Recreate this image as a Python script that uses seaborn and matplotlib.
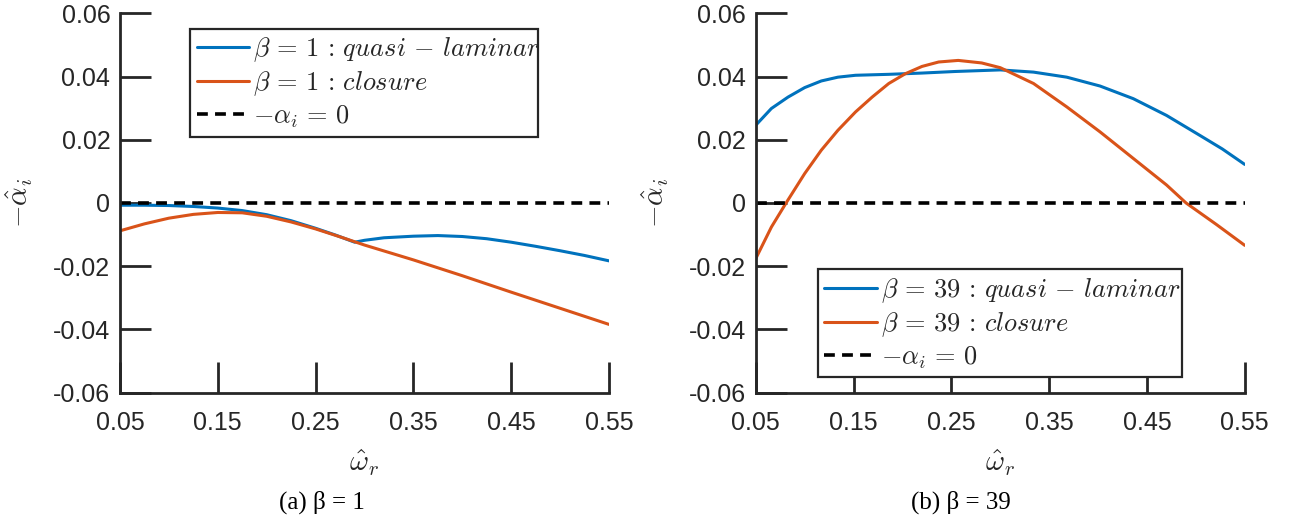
import matplotlib
matplotlib.use("Agg")
import matplotlib.pyplot as plt
import seaborn as sns

# --- data ---
x_ticks = [0.05, 0.15, 0.25, 0.35, 0.45, 0.55]
x_tick_labels = ["0.05", "0.15", "0.25", "0.35", "0.45", "0.55"]
y_ticks = [-0.06, -0.04, -0.02, 0, 0.02, 0.04, 0.06]
y_tick_labels = ["-0.06", "-0.04", "-0.02", "0", "0.02", "0.04", "0.06"]

# beta = 1
b1_ql_w = [0.05, 0.075, 0.10, 0.125, 0.15, 0.175, 0.20, 0.225, 0.25, 0.27, 0.29,
           0.30, 0.32, 0.35, 0.375, 0.40, 0.425, 0.45, 0.475, 0.50, 0.525, 0.55]
b1_ql_a = [-0.0007, -0.0007, -0.0008, -0.0011, -0.0016, -0.0024, -0.0037, -0.0056,
           -0.0080, -0.0101, -0.0124, -0.0118, -0.0110, -0.0105, -0.0103, -0.0106,
           -0.0113, -0.0124, -0.0137, -0.0151, -0.0166, -0.0183]
b1_cl_w = [0.05, 0.075, 0.10, 0.125, 0.15, 0.175, 0.20, 0.225, 0.25, 0.275, 0.30,
           0.35, 0.40, 0.45, 0.50, 0.55]
b1_cl_a = [-0.0088, -0.0066, -0.0048, -0.0036, -0.0030, -0.0031, -0.0042, -0.0060,
           -0.0082, -0.0107, -0.0133, -0.0180, -0.0230, -0.0282, -0.0333, -0.0384]

# beta = 39
b39_ql_w = [0.05, 0.066, 0.083, 0.100, 0.117, 0.134, 0.152, 0.186, 0.220, 0.254,
            0.300, 0.334, 0.368, 0.402, 0.436, 0.470, 0.504, 0.527, 0.55]
b39_ql_a = [0.0246, 0.0299, 0.0335, 0.0365, 0.0386, 0.0398, 0.0404, 0.0407, 0.0411,
            0.0416, 0.0421, 0.0414, 0.0398, 0.0370, 0.0330, 0.0277, 0.0214, 0.0171,
            0.0122]
b39_cl_w = [0.05, 0.066, 0.081, 0.100, 0.117, 0.134, 0.152, 0.169, 0.186, 0.203,
            0.220, 0.237, 0.257, 0.281, 0.300, 0.334, 0.368, 0.402, 0.436, 0.470,
            0.490, 0.521, 0.55]
b39_cl_a = [-0.0176, -0.0076, 0.0000, 0.0093, 0.0167, 0.0230, 0.0288, 0.0335, 0.0378,
            0.0409, 0.0432, 0.0446, 0.0451, 0.0443, 0.0428, 0.0378, 0.0304, 0.0225,
            0.0141, 0.0057, 0.0000, -0.0068, -0.0134]

zero_w = [0.05, 0.55]
zero_a = [0, 0]

sns.set_theme(style="ticks")
plt.rcParams.update({
    "font.family": ["Liberation Sans", "DejaVu Sans"],
    "mathtext.fontset": "cm",
    "axes.unicode_minus": False,
})

BLUE = "#0072BD"
ORANGE = "#D95319"
INK = "#262626"

fig = plt.figure(figsize=(12.93, 5.24), dpi=100)
ax1 = fig.add_axes([0.0928, 0.2506, 0.3782, 0.7240])
ax2 = fig.add_axes([0.5845, 0.2506, 0.3782, 0.7240])

panels = [
    (ax1, "1", b1_ql_w, b1_ql_a, b1_cl_w, b1_cl_a),
    (ax2, "39", b39_ql_w, b39_ql_a, b39_cl_w, b39_cl_a),
]

for ax, beta, qw, qa, cw, ca in panels:
    sns.lineplot(x=qw, y=qa, ax=ax, color=BLUE, lw=2.2,
                 label=r"$\beta\,=\,%s\,:\,quasi\,-\,laminar$" % beta)
    sns.lineplot(x=cw, y=ca, ax=ax, color=ORANGE, lw=2.2,
                 label=r"$\beta\,=\,%s\,:\,closure$" % beta)
    sns.lineplot(x=zero_w, y=zero_a, ax=ax, color="black", lw=2.6,
                 label=r"$-\alpha_i\,=\,0$")
    ax.lines[-1].set_dashes([3, 2])

    ax.set_xlim(0.05, 0.55)
    ax.set_ylim(-0.06, 0.06)
    ax.set_xticks(x_ticks, x_tick_labels)
    ax.set_yticks(y_ticks, y_tick_labels)
    ax.tick_params(direction="in", length=22, width=2, colors=INK,
                   labelsize=18, labelcolor=INK)
    ax.tick_params(axis="x", pad=13)
    ax.tick_params(axis="y", pad=7)
    for side in ["top", "right"]:
        ax.spines[side].set_visible(False)
    for side in ["left", "bottom"]:
        ax.spines[side].set_linewidth(2)
        ax.spines[side].set_color(INK)

    ax.set_xlabel(r"$\hat{\omega}_r$", fontsize=21, color=INK)
    ax.set_ylabel(r"$-\hat{\alpha}_i$", fontsize=21, color=INK)
    ax.xaxis.set_label_coords(0.5, -0.146)
    ax.yaxis.set_label_coords(-0.174, 0.5)

leg_kw = dict(fontsize=19, frameon=True, fancybox=False, framealpha=1,
              edgecolor=INK, handlelength=2.0, handletextpad=0.15,
              labelspacing=0.2, borderpad=0.25, borderaxespad=0, mode="expand")
leg1 = ax1.legend(loc="upper left", bbox_to_anchor=(0.143, 0.687, 0.712, 0.272), **leg_kw)
leg2 = ax2.legend(loc="lower left", bbox_to_anchor=(0.127, 0.041, 0.744, 0.272), **leg_kw)
for leg in (leg1, leg2):
    leg.get_frame().set_linewidth(1.6)
    leg.set_zorder(10)

fig.text(0.249, 0.042, "(a) β = 1", family="Liberation Serif", fontsize=18,
         ha="center", va="center", color="black")
fig.text(0.743, 0.042, "(b) β = 39", family="Liberation Serif", fontsize=18,
         ha="center", va="center", color="black")

fig.savefig("out.png", dpi=100)
